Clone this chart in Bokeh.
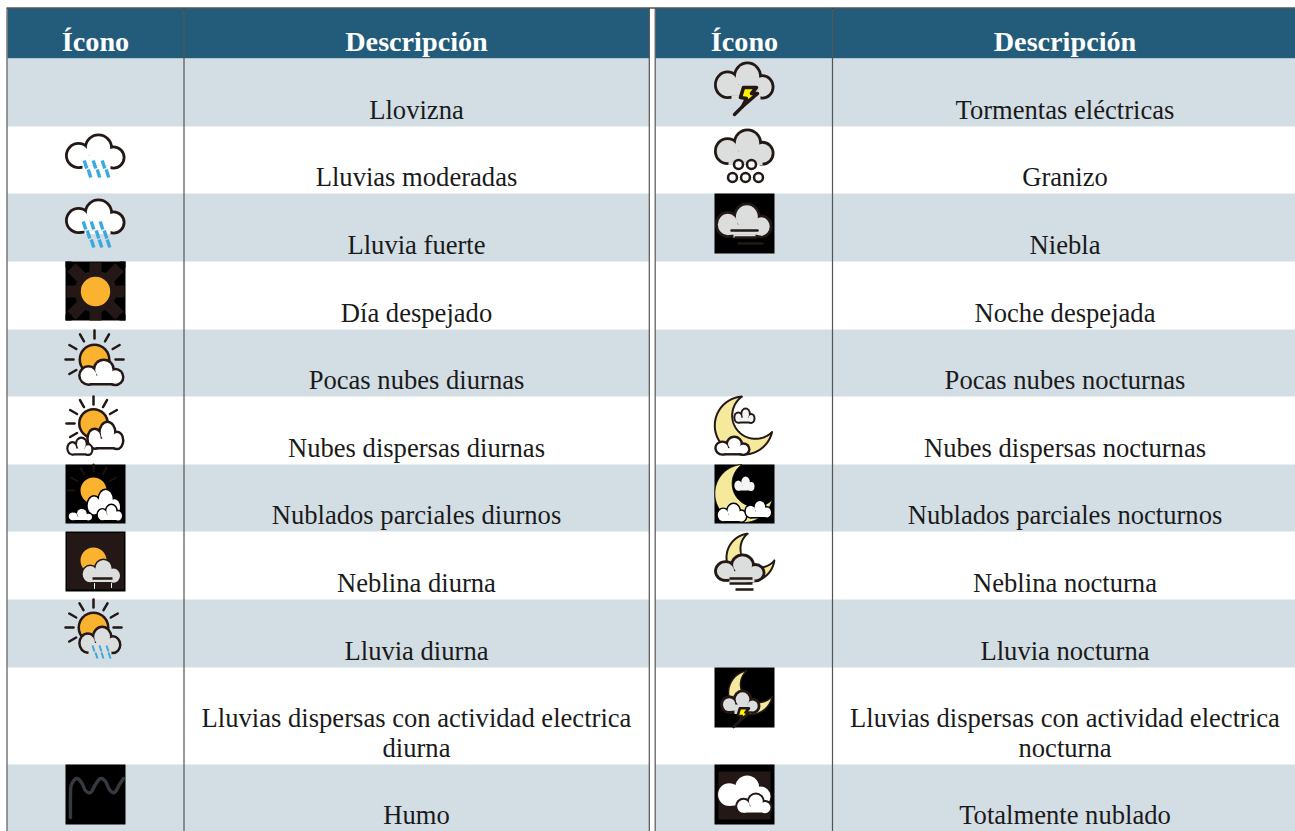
import numpy as np
from bokeh.plotting import figure
from bokeh.models import Range1d
from bokeh.core.properties import value
from bokeh.embed import file_html
from bokeh.resources import INLINE

HEADERS = ["Ícono", "Descripción"]
LEFT_LABELS = ["Llovizna", "Lluvias moderadas", "Lluvia fuerte", "Día despejado",
               "Pocas nubes diurnas", "Nubes dispersas diurnas", "Nublados parciales diurnos",
               "Neblina diurna", "Lluvia diurna",
               "Lluvias dispersas con actividad electrica\ndiurna", "Humo"]
RIGHT_LABELS = ["Tormentas eléctricas", "Granizo", "Niebla", "Noche despejada",
                "Pocas nubes nocturnas", "Nubes dispersas nocturnas", "Nublados parciales nocturnos",
                "Neblina nocturna", "Lluvia nocturna",
                "Lluvias dispersas con actividad electrica\nnocturna", "Totalmente nublado"]
LEFT_ICONS = [None, "rain", "heavy", "sun", "few_day", "scat_day", "part_day",
              "mist_day", "rain_day", None, "smoke"]
RIGHT_ICONS = ["storm", "hail", "fog", None, None, "scat_night", "part_night",
               "mist_night", None, "storm_night", "overcast"]

# layout
W, H = 1295, 831
ROW_EDGES = [58, 126, 193, 261, 329, 396, 464, 531, 599, 667, 764, 831]
HEAD = "#235c7a"; BAND = "#d3dde4"; GRID = "#555555"; INK = "#231815"
SUN = "#fbb32f"; BLUE = "#3aa9e0"; GREY = "#dcdddd"; MOON = "#f5ea9c"; BOLT = "#fff000"
SERIF = value("Liberation Serif")
TEXT_PX = "26.6px"
HEAD_PX = "28.2px"

p = figure(width=W, height=H, x_range=Range1d(0, W), y_range=Range1d(H, 0),
           output_backend="svg", toolbar_location=None, min_border=0,
           outline_line_color=None, background_fill_color="white",
           border_fill_color="white")
p.axis.visible = False
p.grid.visible = False


class Box:
    def __init__(self, x0, y0):
        self.x0, self.y0 = x0, y0

    def rect(self, x1, y1, x2, y2, color):
        p.quad(left=[self.x0 + x1], right=[self.x0 + x2], top=[self.y0 + y1], bottom=[self.y0 + y2],
               fill_color=color, line_color=None)

    def ell(self, x, y, a, b, color):
        p.ellipse(x=[self.x0 + x], y=[self.y0 + y], width=[2 * a], height=[2 * b],
                  fill_color=color, line_color=None)

    def seg(self, x1, y1, x2, y2, color, lw=2.5, cap="round"):
        p.line([self.x0 + x1, self.x0 + x2], [self.y0 + y1, self.y0 + y2], line_color=color,
               line_width=lw, line_cap=cap)

    def path(self, xs, ys, color, lw):
        p.line(self.x0 + np.asarray(xs, float), self.y0 + np.asarray(ys, float), line_color=color,
               line_width=lw, line_cap="round", line_join="round")

    def poly(self, xs, ys, fill, stroke=None, lw=1.0):
        p.patch(self.x0 + np.asarray(xs, float), self.y0 + np.asarray(ys, float), fill_color=fill,
                line_color=stroke, line_width=lw, line_join="round")

    def cloud(self, x, y, w, h, fill, stroke=INK, lw=2.8, gap=None):
        lobes = [(13, 22, 13.5), (33, 14.5, 14.5), (48, 24, 12)]
        sx, sy = w / 60, h / 35
        X = lambda v: x + v * sx
        Y = lambda v: y + v * sy
        for lx, ly, r in lobes:
            self.ell(X(lx), Y(ly), r * sx, r * sy, stroke)
        self.rect(X(13), Y(22), X(48), y + h, stroke)
        for lx, ly, r in lobes:
            self.ell(X(lx), Y(ly), r * sx - lw, r * sy - lw, fill)
        self.rect(X(13), Y(22), X(48), y + h - lw, fill)
        if gap:
            self.rect(gap[0], y + h - lw - .5, gap[1], y + h + .5, fill)

    def rays(self, cx, cy, r1, r2, angles, color=INK, lw=2.5):
        for a in angles:
            c, s = np.cos(np.radians(a)), -np.sin(np.radians(a))
            self.seg(cx + r1 * c, cy + r1 * s, cx + r2 * c, cy + r2 * s, color, lw)

    def sun(self, cx, cy, r, stroke=INK, lw=2.5):
        if stroke:
            self.ell(cx, cy, r, r, stroke)
        self.ell(cx, cy, r - lw, r - lw, SUN)

    def streaks(self, pts, ln=4, dx=1.3, lw=3.4):
        for x, y in pts:
            self.seg(x - dx, y - ln, x + dx, y + ln, BLUE, lw, "butt")

    def bolt(self, ox=0, oy=0, s=1.0):
        xs = np.array([29, 42, 37, 43, 28, 32, 26]); ys = np.array([29, 29, 35, 35, 48, 40, 39])
        self.poly(ox + xs * s, oy + ys * s, BOLT, INK, 3.2 * s + .4)
        self.path(ox + np.array([28, 20]) * s, oy + np.array([48, 56]) * s, INK, 3 * s + .4)

    def crescent(self, cx, cy, R, ix, iy, r, fill, stroke=INK, lw=2.0):
        t = np.linspace(0, 2 * np.pi, 721)[:-1]
        ox, oy = cx + R * np.cos(t), cy + R * np.sin(t)
        keep = np.hypot(ox - ix, oy - iy) > r
        k = int(np.argmin(keep))
        ox, oy, keep = np.roll(ox, -k), np.roll(oy, -k), np.roll(keep, -k)
        ox, oy = ox[keep], oy[keep]
        a1 = np.arctan2(oy[-1] - iy, ox[-1] - ix); a2 = np.arctan2(oy[0] - iy, ox[0] - ix)
        if a2 > a1:
            a2 -= 2 * np.pi
        tt = np.linspace(a1, a2, 120)
        self.poly(np.r_[ox, ix + r * np.cos(tt)], np.r_[oy, iy + r * np.sin(tt)], fill, stroke, lw)

    def curve(self, pts, color, lw):
        pts = np.array(pts, float)
        q = np.vstack([pts[0], pts, pts[-1]])
        xs, ys = [], []
        for i in range(1, len(q) - 2):
            for u in np.linspace(0, 1, 14):
                a = 2 * q[i] + (q[i + 1] - q[i - 1]) * u + (2 * q[i - 1] - 5 * q[i] + 4 * q[i + 1] - q[i + 2]) * u ** 2 \
                    + (-q[i - 1] + 3 * q[i] - 3 * q[i + 1] + q[i + 2]) * u ** 3
                xs.append(a[0] / 2); ys.append(a[1] / 2)
        self.path(xs, ys, color, lw)


RAY_ANGLES = [90, 120, 60, 150, 30, 180, 0, 210]


def draw_icon(name, b):
    if name == "rain":
        b.cloud(0, 7, 60, 35, "white", gap=(17, 45))
        b.streaks([(20, 38), (29, 38), (38, 38), (24, 47), (33, 47), (42, 47)])
    elif name == "heavy":
        b.cloud(0, 5, 60, 35, "white", gap=(19, 45))
        b.streaks([(19, 32), (27, 32), (36, 32), (23, 41), (32, 41), (40, 41), (27, 50), (35, 50), (43, 50)])
    elif name == "sun":
        b.rect(0, 0, 60, 59, "black")
        for a in [0, 45, 90, 135]:
            c, s = np.cos(np.radians(a)), np.sin(np.radians(a))
            ln = 29 if a % 90 == 0 else 34
            b.seg(30 - ln * c, 30 - ln * s, 30 + ln * c, 30 + ln * s, INK, 12, "butt")
        b.rect(0, 0, 6, 6, "black"); b.rect(54, 0, 60, 6, "black")
        b.rect(0, 53, 6, 59, "black"); b.rect(54, 53, 60, 59, "black")
        b.ell(30, 30, 21, 21, INK)
        b.ell(30, 30, 14.7, 14.7, SUN)
    elif name == "few_day":
        b.rays(29, 30, 21, 29, RAY_ANGLES)
        b.sun(29, 30, 16)
        b.cloud(13, 29, 46, 27, "white", lw=2.5)
    elif name == "scat_day":
        b.rays(28, 27, 19, 27, [90, 120, 60, 150, 30, 180, 210])
        b.sun(28, 27, 15.5)
        b.cloud(21, 24, 38, 29, "white", lw=2.5)
        b.cloud(1, 40, 27, 19, "white", lw=2.2)
    elif name == "part_day":
        b.rect(0, 0, 60, 59, "black")
        b.rays(28, 26, 19, 26, RAY_ANGLES[:6], "#191512", 2)
        b.sun(28, 26, 15.5, None)
        b.cloud(21, 24, 35, 27, "white", "black", 1.5)
        b.cloud(2, 43, 26, 14, "white", "black", 1.5)
        b.cloud(31, 39, 27, 18, "white", "black", 1.5)
    elif name == "mist_day":
        b.rect(0, 0, 60, 60, "black")
        b.rect(1.5, 1.5, 58.5, 58, INK)
        b.sun(28, 29, 15.5, None)
        b.cloud(16, 27, 40, 25, GREY, INK, 1.5)
        b.seg(27, 47, 47, 47, INK, 2.5, "butt")
        b.seg(29, 52, 29, 57, "white", 1)
        b.seg(46, 52, 46, 56, "white", 1)
    elif name == "rain_day":
        b.rays(28, 28, 20, 28, RAY_ANGLES)
        b.sun(28, 28, 16)
        b.cloud(13, 26, 43, 28, GREY, lw=2.5, gap=(23, 46))
        b.streaks([(28, 49), (35, 49), (42, 49), (31, 56), (37, 56), (44, 56)], 3, 1, 2)
    elif name == "smoke":
        b.rect(0, 0, 60, 60, "black")
        b.curve([(5, 53), (5, 30), (6, 20), (11, 14), (16, 18), (20, 26), (25, 28), (30, 20),
                 (35, 14), (40, 17), (44, 25), (49, 28), (54, 20), (58, 14)], "#343a40", 3.4)
    elif name == "storm":
        b.cloud(0, 3, 60, 37, GREY, gap=(17, 46))
        b.bolt()
    elif name == "hail":
        b.cloud(0, 2, 60, 36, GREY, gap=(14, 48))
        for x, y in [(24, 38), (37, 38), (18, 51), (31, 51), (44, 51)]:
            b.ell(x, y, 5.7, 5.7, INK)
            b.ell(x, y, 3.2, 3.2, "white")
    elif name == "fog":
        b.rect(0, 0, 60, 60, "black")
        b.cloud(1, 9, 57, 35, GREY, gap=(19, 41))
        b.seg(17, 37, 43, 37, INK, 2.5)
        b.seg(21, 44, 41, 44, INK, 2.5)
        b.seg(24, 50, 48, 50, INK, 2.5)
    elif name == "scat_night":
        b.crescent(29.3, 29, 29, 41, 19, 23.3, MOON)
        b.cloud(19, 11, 22, 16, "#f4f4f4", INK, 2)
        b.cloud(0, 39, 36, 20, "white", lw=2.4)
    elif name == "part_night":
        b.rect(0, 0, 60, 59, "black")
        b.crescent(29.3, 29, 29, 41, 19, 23.3, MOON, "black", 1)
        b.cloud(19, 11, 22, 16, "#f4f4f4", "black", 1)
        b.cloud(2, 38, 31, 20, "white", "black", 1.5)
        b.cloud(30, 35, 28, 19, "white", "black", 1.5)
    elif name == "mist_night":
        b.crescent(36, 26, 24, 45, 17, 19, MOON)
        b.cloud(0, 22, 51, 28, GREY, gap=(15, 40))
        b.seg(15, 47, 38, 47, INK, 2.5, "butt")
        b.seg(15, 52, 38, 52, INK, 2.5, "butt")
        b.seg(21, 58, 39, 58, INK, 2.5, "butt")
    elif name == "storm_night":
        b.rect(0, 0, 60, 60, "black")
        b.crescent(36, 25, 22, 44, 17, 18, MOON, INK, 1.5)
        b.cloud(6, 22, 40, 24, GREY, gap=(20, 36))
        b.bolt(5, 20.5, .7)
    elif name == "overcast":
        b.rect(0, 0, 60, 60, "black")
        b.rect(4, 7, 56, 55, INK)
        b.cloud(3, 10, 54, 32, "white", INK, 1)
        b.cloud(21, 28, 37, 22, "white", INK, 2)


def draw_table(left, col_line, right, text_x, head_x, labels, icons):
    p.quad(left=[left], right=[right], top=[8], bottom=[ROW_EDGES[0]], fill_color=HEAD, line_color=None)
    for i in range(0, len(labels), 2):
        p.quad(left=[left], right=[right], top=[ROW_EDGES[i]], bottom=[ROW_EDGES[i + 1]],
               fill_color=BAND, line_color=None)
    icon_x = head_x - 30
    p.text(x=[head_x], y=[48 - 7], text=[HEADERS[0]], text_color="white", text_font=SERIF,
           text_font_size=HEAD_PX, text_font_style="bold", text_align="center", text_baseline="alphabetic")
    p.text(x=[text_x], y=[48 - 7], text=[HEADERS[1]], text_color="white", text_font=SERIF,
           text_font_size=HEAD_PX, text_font_style="bold", text_align="center", text_baseline="alphabetic")
    for i, (lab, ic) in enumerate(zip(labels, icons)):
        if ic:
            draw_icon(ic, Box(icon_x, ROW_EDGES[i]))
        lines = lab.split("\n")
        base = ROW_EDGES[i + 1] - 17
        for k, line in enumerate(reversed(lines)):
            p.text(x=[text_x], y=[base - 29.5 * k], text=[line], text_color="#1a1a1a", text_font=SERIF,
                   text_font_size=TEXT_PX, text_align="center", text_baseline="alphabetic")
    p.line([col_line, col_line], [8, H], line_color=GRID, line_width=1.2)


draw_table(7, 183.5, 649, 416, 95, LEFT_LABELS, LEFT_ICONS)
draw_table(655, 832, W, 1064.5, 744, RIGHT_LABELS, RIGHT_ICONS)
for xv in (6.5, 648.8, 654.7):
    p.line([xv, xv], [8, H], line_color=GRID, line_width=1.2)
p.line([6, W], [7.5, 7.5], line_color="black", line_width=1.2)

open("out.html", "w").write(file_html(p, INLINE))
